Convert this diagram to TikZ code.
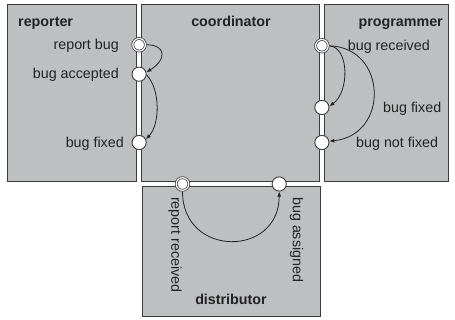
\documentclass[tikz,border=0pt]{standalone}
\usepackage{fontspec}
\setmainfont{Liberation Sans}
\usetikzlibrary{arrows.meta}
\definecolor{boxgray}{RGB}{190,191,193}
\definecolor{edge}{RGB}{60,60,60}
\definecolor{ink}{RGB}{35,35,35}
\begin{document}
\begin{tikzpicture}[x=1pt,y=-1pt,
  lane/.style={draw=edge, fill=boxgray, line width=0.9pt},
  port/.style={circle, draw=edge, fill=white, line width=0.9pt, minimum size=14.2pt, inner sep=0pt},
  startport/.style={port, minimum size=12.6pt, line width=0.75pt, double=white, double distance=1.2pt, outer sep=1.35pt},
  title/.style={font=\fontsize{14.3}{17}\selectfont\bfseries, text=ink, inner sep=0pt},
  lbl/.style={font=\fontsize{14.3}{17}\selectfont, text=ink, inner sep=0pt},
  flow/.style={draw=ink, line width=0.8pt, -{Latex[length=5pt,width=4pt]}}]
\useasboundingbox (0,0) rectangle (455,320);
% lanes
\path[lane] (7,4.7) rectangle (136.7,181.3);
\path[lane] (141.5,4.7) rectangle (319.3,181.3);
\path[lane] (324.3,4.7) rectangle (448,181.3);
\path[lane] (142.3,186.5) rectangle (320,316.7);
% titles
\node[title, anchor=base west] (treporter) at (18,27) {reporter};
\node[title, anchor=base] (tcoord) at (231,27) {coordinator};
\node[title, anchor=base east] (tprog) at (443,27) {programmer};
\node[title, anchor=base] (tdist) at (231,305) {distributor};
% ports
\node[startport] (rb) at (139.1,44.8) {};
\node[port] (ba) at (139.1,74.2) {};
\node[port] (bfr) at (139.1,142.5) {};
\node[startport] (br) at (321.9,45.8) {};
\node[port] (bfp) at (321.9,107.5) {};
\node[port] (bnf) at (321.9,142.5) {};
\node[startport] (rr) at (182.5,184) {};
\node[port] (bas) at (279.2,184) {};
% labels
\node[lbl, anchor=base east] (lrb) at (119,50) {report bug};
\node[lbl, anchor=base east] (lba) at (119,79) {bug accepted};
\node[lbl, anchor=base east] (lbfr) at (124,148) {bug fixed};
\node[lbl, anchor=base west] (lbr) at (347.7,51) {bug received};
\node[lbl, anchor=base west] (lbfp) at (383,112.5) {bug fixed};
\node[lbl, anchor=base west] (lbnf) at (356,147.5) {bug not fixed};
\node[lbl, rotate=-90, anchor=west] (lrr) at (175,197) {report received};
\node[lbl, rotate=-90, anchor=west] (lbas) at (296.5,197) {bug assigned};
% flows
\draw[flow] (rb.east) .. controls +(19,0) and +(21,-13) .. (ba.15);
\draw[flow] (ba.-5) .. controls +(14,15) and +(14,-15) .. (bfr.25);
\draw[flow] (br.east) .. controls +(20,2) and +(20,-14) .. (bfp.10);
\draw[flow] (br.east) .. controls +(58,2) and +(60,-6) .. (bnf.10);
\draw[flow] (rr.south) .. controls +(0,66) and +(0,66) .. (bas.south);
\end{tikzpicture}
\end{document}
